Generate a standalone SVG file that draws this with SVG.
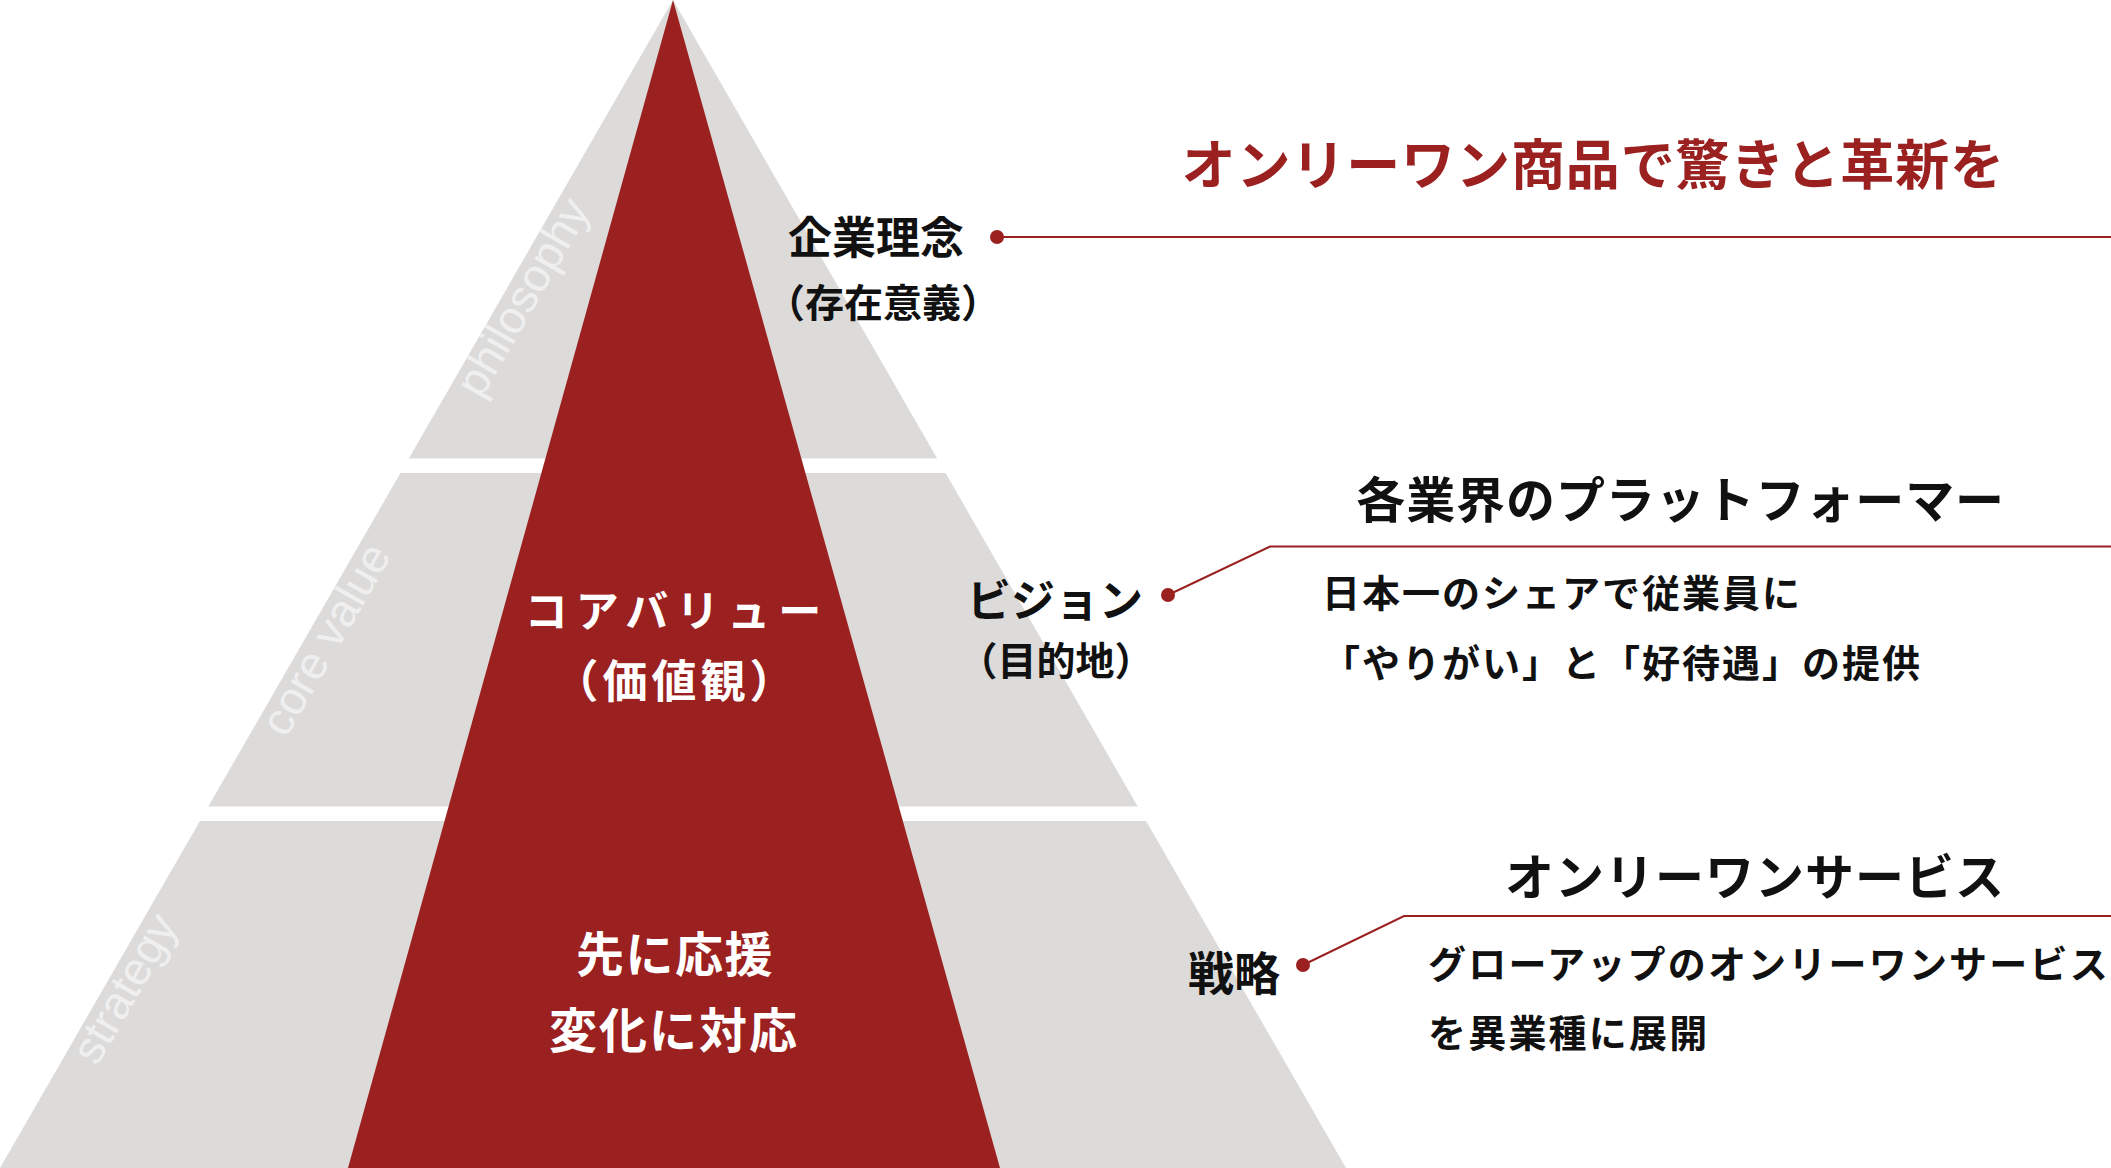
<svg xmlns="http://www.w3.org/2000/svg" width="2111" height="1168" viewBox="0 0 2111 1168">
  <style>
    .jp { font-family: "Noto Sans CJK JP", "Noto Sans CJK SC", sans-serif; font-weight: 700; }
    .blk { fill: #111111; }
    .wht { fill: #ffffff; }
    .red { fill: #9b2020; }
    .en { font-family: "Liberation Sans", Arial, sans-serif; font-size: 46px; fill: #efefef; }
    .conn { fill: none; stroke: #9b2020; stroke-width: 2; }
    .dot { fill: #9b2020; }
  </style>
  <rect x="0" y="0" width="2111" height="1168" fill="#ffffff"/>

  <g id="pyramid">
    <polygon points="673,0 1346,1168 0,1168" fill="#dcdbda"/>
    <rect x="0" y="458.5" width="1400" height="14.5" fill="#ffffff"/>
    <rect x="0" y="806.5" width="1400" height="14.5" fill="#ffffff"/>
    <polygon points="673,0 1000,1168 348,1168" fill="#9b2020"/>
  </g>

  <g id="tier-labels">
    <text class="en" transform="translate(481,400) rotate(-60)">philosophy</text>
    <text class="en" transform="translate(286,739) rotate(-60)">core value</text>
    <text class="en" transform="translate(97,1067) rotate(-60)">strategy</text>
  </g>

  <g id="core-value">
    <text class="jp wht" x="677" y="627" font-size="43" letter-spacing="8" text-anchor="middle">コアバリュー</text>
    <text class="jp wht" x="676" y="698" font-size="45" letter-spacing="4" text-anchor="middle">（価値観）</text>
  </g>

  <g id="core-strategy">
    <text class="jp wht" x="675" y="972" font-size="48" letter-spacing="1.5" text-anchor="middle">先に応援</text>
    <text class="jp wht" x="674" y="1048" font-size="48" letter-spacing="2" text-anchor="middle">変化に対応</text>
  </g>

  <g id="connectors">
    <polyline class="conn" points="997,237 2111,237"/>
    <polyline class="conn" points="1168,595 1270,546.6 2111,546.6"/>
    <polyline class="conn" points="1303,965 1404,916 2111,916"/>
    <circle class="dot" cx="997" cy="237" r="7"/>
    <circle class="dot" cx="1168" cy="595" r="7"/>
    <circle class="dot" cx="1303" cy="965" r="7"/>
  </g>

  <g id="philosophy">
    <text class="jp blk" x="876" y="254" font-size="44" text-anchor="middle">企業理念</text>
    <text class="jp blk" x="883" y="317" font-size="39" text-anchor="middle">（存在意義）</text>
    <text class="jp red" x="2005" y="185" font-size="54" letter-spacing="0.9" text-anchor="end">オンリーワン商品で驚きと革新を</text>
  </g>

  <g id="vision">
    <text class="jp blk" x="1055" y="617" font-size="44" text-anchor="middle">ビジョン</text>
    <text class="jp blk" x="1056" y="675" font-size="39" text-anchor="middle">（目的地）</text>
    <text class="jp blk" x="2005" y="518" font-size="49" letter-spacing="0.9" text-anchor="end">各業界のプラットフォーマー</text>
    <text class="jp blk" x="1322" y="607" font-size="38" letter-spacing="2">日本一のシェアで従業員に</text>
    <text class="jp blk" x="1322" y="677" font-size="38" letter-spacing="2">「やりがい」と「好待遇」の提供</text>
  </g>

  <g id="strategy">
    <text class="jp blk" x="1234" y="990" font-size="46" text-anchor="middle">戦略</text>
    <text class="jp blk" x="2005" y="895" font-size="49" letter-spacing="1" text-anchor="end">オンリーワンサービス</text>
    <text class="jp blk" x="1428" y="978" font-size="38" letter-spacing="2.2">グローアップのオンリーワンサービス</text>
    <text class="jp blk" x="1428" y="1047" font-size="38" letter-spacing="2.2">を異業種に展開</text>
  </g>
</svg>
